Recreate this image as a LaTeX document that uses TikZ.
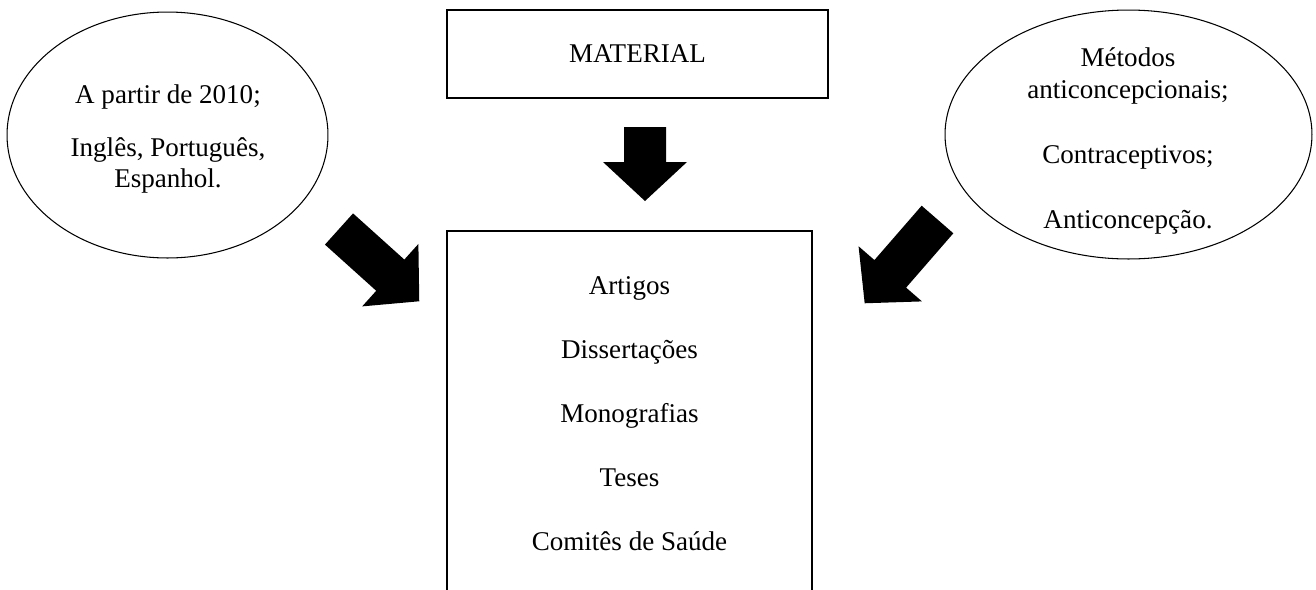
\documentclass[tikz,border=0pt]{standalone}
\usepackage{fontspec}
\setmainfont{Liberation Serif}
\usetikzlibrary{shapes.geometric}

\tikzset{
	caixa/.style={draw = black, line width = .7pt, inner sep = 0pt, align = center},
	balao/.style={draw = black, ellipse, line width = .6pt, inner sep = 0pt},
	texto/.style={inner sep = 0pt, align = center, font = \fontsize{15.4}{17.4}\selectfont},
	pics/seta/.style={code={
		\fill [black] (0, -21) -- (#1-39, -21) -- (#1-39, -42) -- (#1, 0)
			-- (#1-39, 42) -- (#1-39, 21) -- (0, 21) -- cycle;
	}}
}

\begin{document}
\begin{tikzpicture}[x = .02cm, y = -.02cm, font = \fontsize{15.4}{18.2}\selectfont]
	\useasboundingbox (0, 0) rectangle (1316, 589);
	\clip (0, 0) rectangle (1316, 589);
	
	% caixas
	\node [caixa, minimum width = 7.62cm, minimum height = 1.76cm] (material) at (637.5, 54) {MATERIAL};
	\node [caixa, minimum width = 7.3cm, minimum height = 7.32cm,
		font = \fontsize{15.4}{36.4}\selectfont] (lista) at (629.5, 414)
		{Artigos\\Dissertações\\Monografias\\Teses\\Comitês de Saúde};
	
	% baloes
	\node [balao, minimum width = 6.42cm, minimum height = 4.92cm] (periodo) at (167.5, 135) {};
	\node [balao, minimum width = 7.34cm, minimum height = 4.98cm] (termos) at (1128.5, 134.5) {};
	\node [texto] (periodo-txt) at (168, 139)
		{A partir de 2010;\\[13pt]Inglês, Português,\\Espanhol.};
	\node [texto, font = \fontsize{15.4}{18.6}\selectfont] (termos-txt) at (1128, 141)
		{Métodos\\anticoncepcionais;\\[18.4pt]Contraceptivos;\\[18.4pt]Anticoncepção.};
	
	% setas
	\coordinate (s1) at (645, 127);
	\coordinate (s2) at (339, 229);
	\coordinate (s3) at (937.5, 219.5);
	\pic [rotate = -90] at (s1) {seta=74};
	\pic [rotate = -42] at (s2) {seta=108};
	\pic [rotate = -131] at (s3) {seta=111};
\end{tikzpicture}
\end{document}
